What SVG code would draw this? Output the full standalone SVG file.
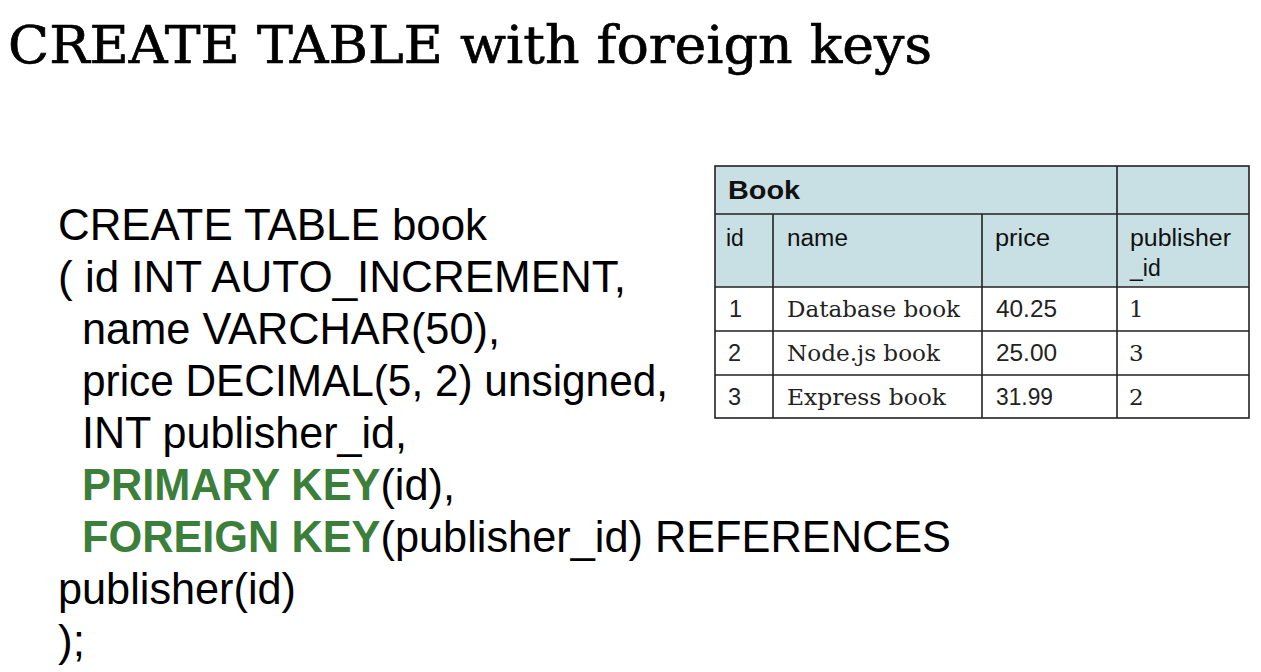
<svg xmlns="http://www.w3.org/2000/svg" width="1261" height="672" viewBox="0 0 1261 672">
<style>
.title{font-family:"DejaVu Serif","Liberation Serif",serif;font-size:53px;fill:#000;stroke:#000;stroke-width:0.7}
.code{font-family:"Liberation Sans",Arial,sans-serif;font-size:44px;fill:#000}
.kw{font-weight:bold;fill:#3b7f3b}
.th{font-family:"Liberation Sans",Arial,sans-serif;font-size:23px;fill:#111}
.tb{font-family:"Liberation Sans",Arial,sans-serif;font-size:25px;font-weight:bold;fill:#111}
.ts{font-family:"DejaVu Serif","Liberation Serif",serif;font-size:23px;fill:#222}
.tn{font-family:"Liberation Sans",Arial,sans-serif;font-size:23.5px;fill:#222}
.grid{stroke:#222;stroke-width:1.6;fill:none}
</style>
<rect width="1261" height="672" fill="#fff"/>
<g id="title">
<text class="title" x="8" y="63" textLength="924" lengthAdjust="spacingAndGlyphs">CREATE TABLE with foreign keys</text>
</g>
<g id="code">
<text class="code" x="58" y="240" textLength="429" lengthAdjust="spacingAndGlyphs">CREATE TABLE book</text>
<text class="code" x="58" y="292" textLength="568" lengthAdjust="spacingAndGlyphs">( id INT AUTO_INCREMENT,</text>
<text class="code" x="82" y="344" textLength="418" lengthAdjust="spacingAndGlyphs">name VARCHAR(50),</text>
<text class="code" x="82" y="396" textLength="586" lengthAdjust="spacingAndGlyphs">price DECIMAL(5, 2) unsigned,</text>
<text class="code" x="82" y="448" textLength="325" lengthAdjust="spacingAndGlyphs">INT publisher_id,</text>
<text class="code" x="82" y="500" textLength="373" lengthAdjust="spacingAndGlyphs"><tspan class="kw">PRIMARY KEY</tspan>(id),</text>
<text class="code" x="82" y="552" textLength="869" lengthAdjust="spacingAndGlyphs"><tspan class="kw">FOREIGN KEY</tspan>(publisher_id) REFERENCES</text>
<text class="code" x="58" y="604" textLength="238" lengthAdjust="spacingAndGlyphs">publisher(id)</text>
<text class="code" x="58" y="656">);</text>
</g>
<g id="book-table">
<rect x="715" y="166" width="534" height="121" fill="#c8e0e3"/>
<rect x="715" y="287" width="534" height="131" fill="#fff"/>
<rect class="grid" x="715" y="166" width="534" height="252"/>
<path class="grid" d="M715 214H1249M715 287H1249M715 331H1249M715 375H1249M773 214V418M982 214V418M1117 166V418"/>
<text class="tb" x="728" y="199" textLength="72" lengthAdjust="spacingAndGlyphs">Book</text>
<text class="th" x="726" y="246">id</text>
<text class="th" x="787" y="246" textLength="61" lengthAdjust="spacingAndGlyphs">name</text>
<text class="th" x="995" y="246" textLength="55" lengthAdjust="spacingAndGlyphs">price</text>
<text class="th" x="1130" y="246" textLength="101" lengthAdjust="spacingAndGlyphs">publisher</text>
<text class="th" x="1130" y="276">_id</text>
<text class="tn" x="729" y="317">1</text>
<text class="ts" x="787" y="317" textLength="173" lengthAdjust="spacingAndGlyphs">Database book</text>
<text class="tn" x="996" y="317" textLength="61" lengthAdjust="spacingAndGlyphs">40.25</text>
<text class="ts" x="1129" y="317">1</text>
<text class="tn" x="728" y="361">2</text>
<text class="ts" x="787" y="361" textLength="153" lengthAdjust="spacingAndGlyphs">Node.js book</text>
<text class="tn" x="996" y="361" textLength="61" lengthAdjust="spacingAndGlyphs">25.00</text>
<text class="ts" x="1129" y="361">3</text>
<text class="tn" x="728" y="405">3</text>
<text class="ts" x="787" y="405" textLength="159" lengthAdjust="spacingAndGlyphs">Express book</text>
<text class="tn" x="996" y="405" textLength="57" lengthAdjust="spacingAndGlyphs">31.99</text>
<text class="ts" x="1129" y="405">2</text>
</g>
</svg>
